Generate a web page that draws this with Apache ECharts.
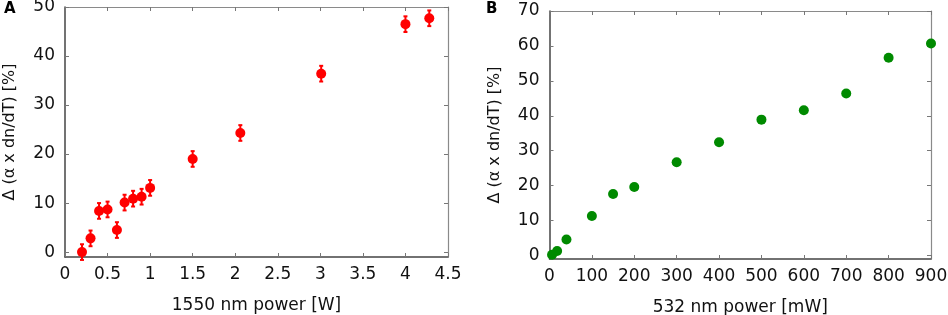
<!DOCTYPE html>
<html>
<head>
<meta charset="utf-8">
<script src="https://cdn.jsdelivr.net/npm/echarts@6/dist/echarts.min.js"></script>
<style>
html, body { margin: 0; padding: 0; background: #fff; }
#chart { width: 948px; height: 315px; }
</style>
</head>
<body>
<div id="chart"></div>
<script>
// panel A: 1550 nm pump
var powerA = [0.2, 0.3, 0.4, 0.5, 0.61, 0.7, 0.8, 0.9, 1.0, 1.5, 2.06, 3.01, 4.0, 4.28];
var deltaA = [0.0, 2.8, 8.4, 8.7, 4.5, 10.1, 10.9, 11.3, 13.1, 19.0, 24.3, 36.4, 46.5, 47.7];
var errA   = [1.6, 1.6, 1.6, 1.6, 1.6, 1.6, 1.6, 1.6, 1.6, 1.6, 1.6, 1.6, 1.6, 1.6];
var xTicksA = [0, 0.5, 1, 1.5, 2, 2.5, 3, 3.5, 4, 4.5];
var yTicksA = [0, 10, 20, 30, 40, 50];

// panel B: 532 nm pump
var powerB = [6, 18, 40, 100, 150, 200, 300, 400, 500, 600, 700, 800, 900];
var deltaB = [0.2, 1.3, 4.6, 11.3, 17.6, 19.6, 26.7, 32.4, 38.9, 41.6, 46.4, 56.6, 60.7];
var xTicksB = [0, 100, 200, 300, 400, 500, 600, 700, 800, 900];
var yTicksB = [0, 10, 20, 30, 40, 50, 60, 70];

var chartDom = document.getElementById('chart');
var myChart = echarts.init(chartDom, null, { renderer: 'canvas' });

var font = 'DejaVu Sans';
var yTitle = 'Δ (α x dn/dT) [%]';

function mainX(grid, min, max, ticks, name) {
  return {
    type: 'value', gridIndex: grid, min: min, max: max, position: 'bottom',
    name: name, nameLocation: 'middle', nameGap: 40,
    nameTextStyle: { fontFamily: font, fontSize: 17, color: '#111' },
    axisLine: { show: true, onZero: false, lineStyle: { color: '#444', width: 1.5 } },
    axisTick: { show: true, inside: true, length: 4, customValues: ticks, lineStyle: { color: '#777' } },
    axisLabel: { customValues: ticks, margin: 9, fontFamily: font, fontSize: 17, color: '#111' },
    splitLine: { show: false }
  };
}
function mirrorX(grid, min, max, ticks) {
  return {
    type: 'value', gridIndex: grid, min: min, max: max, position: 'top',
    axisLine: { show: true, onZero: false, lineStyle: { color: '#8a8a8a', width: 1.2 } },
    axisTick: { show: true, inside: true, length: 4, customValues: ticks, lineStyle: { color: '#777' } },
    axisLabel: { show: false },
    splitLine: { show: false }
  };
}
function mainY(grid, min, max, ticks) {
  return {
    type: 'value', gridIndex: grid, min: min, max: max, position: 'left',
    name: yTitle, nameLocation: 'middle', nameGap: 47,
    nameTextStyle: { fontFamily: font, fontSize: 16, color: '#111' },
    axisLine: { show: true, onZero: false, lineStyle: { color: '#444', width: 1.5 } },
    axisTick: { show: true, inside: true, length: 4, customValues: ticks, lineStyle: { color: '#777' } },
    axisLabel: { customValues: ticks, margin: 10, fontFamily: font, fontSize: 17, color: '#111' },
    splitLine: { show: false }
  };
}
function mirrorY(grid, min, max, ticks) {
  return {
    type: 'value', gridIndex: grid, min: min, max: max, position: 'right',
    axisLine: { show: true, onZero: false, lineStyle: { color: '#8a8a8a', width: 1.2 } },
    axisTick: { show: true, inside: true, length: 4, customValues: ticks, lineStyle: { color: '#777' } },
    axisLabel: { show: false },
    splitLine: { show: false }
  };
}

var dataA = powerA.map(function (p, i) { return [p, deltaA[i]]; });
var errDataA = powerA.map(function (p, i) { return [p, deltaA[i] - errA[i], deltaA[i] + errA[i]]; });
var dataB = powerB.map(function (p, i) { return [p, deltaB[i]]; });

var option = {
  animation: false,
  backgroundColor: '#fff',
  grid: [
    { left: 65, right: 500, top: 7, bottom: 58, outerBoundsMode: 'none', containLabel: false },
    { left: 549.5, right: 17, top: 11, bottom: 56, outerBoundsMode: 'none', containLabel: false }
  ],
  xAxis: [
    mainX(0, 0, 4.5, xTicksA, '1550 nm power [W]'),
    mirrorX(0, 0, 4.5, xTicksA),
    mainX(1, 0, 900, xTicksB, '532 nm power [mW]'),
    mirrorX(1, 0, 900, xTicksB)
  ],
  yAxis: [
    mainY(0, -1, 50, yTicksA),
    mirrorY(0, -1, 50, yTicksA),
    mainY(1, -1, 70, yTicksB),
    mirrorY(1, -1, 70, yTicksB)
  ],
  graphic: [
    { type: 'text', left: 4, top: 2, style: { text: 'A', fontFamily: font, fontWeight: 'bold', fontSize: 15, fill: '#000' } },
    { type: 'text', left: 486, top: 2, style: { text: 'B', fontFamily: font, fontWeight: 'bold', fontSize: 15, fill: '#000' } }
  ],
  series: [
    {
      type: 'custom',
      xAxisIndex: 0, yAxisIndex: 0,
      clip: false,
      data: errDataA,
      renderItem: function (params, api) {
        var lo = api.coord([api.value(0), api.value(1)]);
        var hi = api.coord([api.value(0), api.value(2)]);
        var w = 2;
        var st = { stroke: '#ff0000', lineWidth: 2 };
        return {
          type: 'group',
          children: [
            { type: 'line', shape: { x1: lo[0], y1: lo[1], x2: hi[0], y2: hi[1] }, style: st },
            { type: 'line', shape: { x1: lo[0] - w, y1: lo[1], x2: lo[0] + w, y2: lo[1] }, style: st },
            { type: 'line', shape: { x1: hi[0] - w, y1: hi[1], x2: hi[0] + w, y2: hi[1] }, style: st }
          ]
        };
      },
      z: 2
    },
    {
      type: 'scatter',
      xAxisIndex: 0, yAxisIndex: 0,
      clip: false,
      symbolSize: 10,
      itemStyle: { color: '#ff0000', opacity: 1 },
      data: dataA,
      z: 3
    },
    {
      type: 'scatter',
      xAxisIndex: 2, yAxisIndex: 2,
      clip: false,
      symbolSize: 10,
      itemStyle: { color: '#008a00', opacity: 1 },
      data: dataB,
      z: 3
    }
  ]
};

option && myChart.setOption(option);
</script>
</body>
</html>
